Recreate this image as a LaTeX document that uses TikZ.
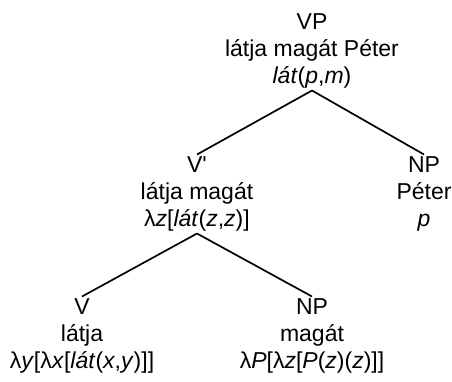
\documentclass[tikz,border=0pt]{standalone}
\usepackage{fontspec}
\setmainfont{Liberation Sans}
\begin{document}
\begin{tikzpicture}[x=1pt,y=-1pt,
	cat/.style={anchor=north,align=center,inner sep=2pt,font=\fontsize{23}{27}\selectfont},
	branch/.style={line width=1.7pt}]
	\useasboundingbox (0,0) rectangle (452,381);
	
	\node[cat] (vp) at (312,11.5) {VP\\látja magát Péter\\\textit{lát}(\textit{p},\textit{m})};
	
	\node[cat] (vbar) at (197,154.5) {V\textquotesingle\\látja magát\\λ\textit{z}[\textit{lát}(\textit{z},\textit{z})]};
	\node[cat] (npsubj) at (424,154.5) {NP\\Péter\\\textit{p}};
	
	\node[cat] (v) at (82,296.5) {V\\látja\\λ\textit{y}[λ\textit{x}[\textit{lát}(\textit{x},\textit{y})]]};
	\node[cat] (npobj) at (312,296.5) {NP\\magát\\λ\textit{P}[λ\textit{z}[\textit{P}(\textit{z})(\textit{z})]]};
	
	\draw[branch] (vp.south) -- (vbar.north);
	\draw[branch] (vp.south) -- (npsubj.north);
	\draw[branch] (vbar.south) -- (v.north);
	\draw[branch] (vbar.south) -- (npobj.north);
\end{tikzpicture}
\end{document}
